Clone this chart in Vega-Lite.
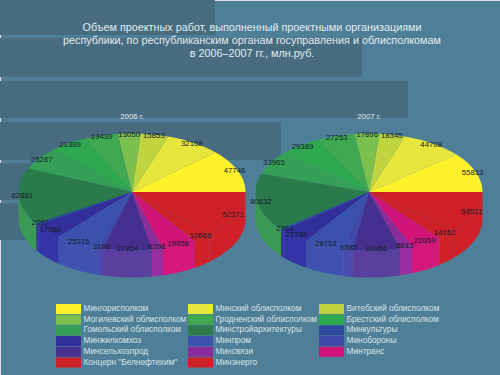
{"$schema":"https://vega.github.io/schema/vega-lite/v6.json","width":500,"height":375,"padding":0,"autosize":{"type":"none"},"background":"#4f7f98","title":{"text":["Объем проектных работ, выполненный проектными организациями","республики, по республиканским органам госуправления и облисполкомам","в 2006–2007 гг., млн.руб."],"font":"Liberation Sans","fontSize":10.8,"fontWeight":"normal","color":"#e4ecf0","anchor":"middle","baseline":"top","offset":-59,"lineHeight":13,"dx":2},"resolve":{"scale":{"color":"independent"}},"datasets":{"slices":[{"year":"2006 г.","name":"Мингорисполком","value":47746},{"year":"2006 г.","name":"Минский облисполком","value":32168},{"year":"2006 г.","name":"Витебский облисполком","value":15853},{"year":"2006 г.","name":"Могилевский облисполком","value":13050},{"year":"2006 г.","name":"Гродненский облисполком","value":19439},{"year":"2006 г.","name":"Брестский облисполком","value":21389},{"year":"2006 г.","name":"Гомельский облисполком","value":25287},{"year":"2006 г.","name":"Минстройархитектуры","value":62881},{"year":"2006 г.","name":"Минкультуры","value":2097},{"year":"2006 г.","name":"Минжилкомхоз","value":17086},{"year":"2006 г.","name":"Минпром","value":25315},{"year":"2006 г.","name":"Минобороны","value":3188},{"year":"2006 г.","name":"Минсельхозпрод","value":27854},{"year":"2006 г.","name":"Минсвязи","value":6298},{"year":"2006 г.","name":"Минтранс","value":19958},{"year":"2006 г.","name":"Концерн \"Белнефтехим\"","value":10668},{"year":"2006 г.","name":"Минэнерго","value":52371},{"year":"2007 г.","name":"Мингорисполком","value":55813},{"year":"2007 г.","name":"Минский облисполком","value":44708},{"year":"2007 г.","name":"Витебский облисполком","value":18345},{"year":"2007 г.","name":"Могилевский облисполком","value":17896},{"year":"2007 г.","name":"Гродненский облисполком","value":27253},{"year":"2007 г.","name":"Брестский облисполком","value":29389},{"year":"2007 г.","name":"Гомельский облисполком","value":33965},{"year":"2007 г.","name":"Минстройархитектуры","value":80632},{"year":"2007 г.","name":"Минкультуры","value":2764},{"year":"2007 г.","name":"Минжилкомхоз","value":21758},{"year":"2007 г.","name":"Минпром","value":28718},{"year":"2007 г.","name":"Минобороны","value":6585},{"year":"2007 г.","name":"Минсельхозпрод","value":33956},{"year":"2007 г.","name":"Минсвязи","value":8813},{"year":"2007 г.","name":"Минтранс","value":22659},{"year":"2007 г.","name":"Концерн \"Белнефтехим\"","value":14162},{"year":"2007 г.","name":"Минэнерго","value":58511}]},"data":{"name":"slices"},"transform":[{"joinaggregate":[{"op":"sum","field":"value","as":"total"}],"groupby":["year"]},{"stack":"value","groupby":["year"],"as":["v0","v1"]},{"calculate":"2*PI*datum.v0/datum.total","as":"a0"},{"calculate":"2*PI*datum.v1/datum.total","as":"a1"},{"calculate":"max(datum.a0,PI)","as":"w0"},{"calculate":"'M0 0L'+round(113.5*cos(datum.a0)*100)/100+' '+round(-58.5*sin(datum.a0)*100)/100+'A113.5 58.5 0 0 0 '+round(113.5*cos(datum.a1)*100)/100+' '+round(-58.5*sin(datum.a1)*100)/100+'Z'","as":"top"},{"calculate":"datum.a1<=PI?'M0 0':'M'+round(113.5*cos(datum.w0)*100)/100+' '+round(-58.5*sin(datum.w0)*100)/100+'A113.5 58.5 0 0 0 '+round(113.5*cos(datum.a1)*100)/100+' '+round(-58.5*sin(datum.a1)*100)/100+'L'+round(113.5*cos(datum.a1)*100)/100+' '+round((27-58.5*sin(datum.a1))*100)/100+'A113.5 58.5 0 0 1 '+round(113.5*cos(datum.w0)*100)/100+' '+round((27-58.5*sin(datum.w0))*100)/100+'Z'","as":"wall"},{"calculate":"0.97*113.5*cos((datum.a0+datum.a1)/2)","as":"lx"},{"calculate":"-0.97*58.5*sin((datum.a0+datum.a1)/2)","as":"ly"}],"layer":[{"data":{"values":[{"deco":"bands"}]},"transform":[],"mark":{"type":"point","filled":true,"opacity":1,"size":4,"color":"#476c80","shape":"M-250 -187.5H-35V-152.5H-250ZM-250 -149.5H112V-110.5H-250ZM-250 -106.5H158V-69.5H-250ZM-250 -65.5H31V-27.5H-250ZM-250 -24.5H-130V12.5H-250ZM-250 15.5H-130V52.5H-250Z"}},{"mark":{"type":"point","filled":true,"size":4,"opacity":1},"encoding":{"x":{"field":"year","type":"ordinal","scale":{"type":"point","domain":["2006 г.","2007 г."],"range":[132,369],"padding":0},"axis":null},"y":{"field":"year","type":"ordinal","scale":{"type":"point","domain":["2006 г.","2007 г."],"range":[192,192],"padding":0},"axis":null},"shape":{"field":"wall","type":"nominal","scale":null},"color":{"field":"name","type":"nominal","legend":null,"scale":{"domain":["Мингорисполком","Минский облисполком","Витебский облисполком","Могилевский облисполком","Гродненский облисполком","Брестский облисполком","Гомельский облисполком","Минстройархитектуры","Минкультуры","Минжилкомхоз","Минпром","Минобороны","Минсельхозпрод","Минсвязи","Минтранс","Концерн \"Белнефтехим\"","Минэнерго"],"range":["#fff22a","#e6e63c","#bfd440","#7cc050","#3fa850","#2ea84f","#35a055","#3a9a55","#33369c","#3535a8","#3f52b0","#4a4ab0","#5a3f9e","#9a2ea0","#d4187c","#d0212a","#d0212a"]}}}},{"mark":{"type":"point","filled":true,"size":4,"opacity":1},"encoding":{"x":{"field":"year","type":"ordinal","axis":null,"scale":{"type":"point","domain":["2006 г.","2007 г."],"range":[132,369],"padding":0}},"y":{"field":"year","type":"ordinal","axis":null,"scale":{"type":"point","domain":["2006 г.","2007 г."],"range":[192,192],"padding":0}},"shape":{"field":"top","type":"nominal","scale":null},"color":{"field":"name","type":"nominal","scale":{"domain":["Мингорисполком","Минский облисполком","Витебский облисполком","Могилевский облисполком","Гродненский облисполком","Брестский облисполком","Гомельский облисполком","Минстройархитектуры","Минкультуры","Минжилкомхоз","Минпром","Минобороны","Минсельхозпрод","Минсвязи","Минтранс","Концерн \"Белнефтехим\"","Минэнерго"],"range":["#fff22a","#e6e63c","#bfd440","#7cc050","#3fa850","#2ea84f","#35a055","#2a7a4c","#2b4a9e","#322e9c","#3a52ae","#4048a8","#46308f","#8a2c9c","#d0147a","#cf2028","#cf2028"]},"legend":{"orient":"none","direction":"horizontal","legendX":63.5,"legendY":304,"columns":3,"title":null,"symbolType":"M-2.5 -1H2.5V1H-2.5Z","symbolSize":100,"symbolOpacity":1,"labelOffset":10,"labelFont":"Liberation Sans","labelFontSize":8.3,"labelColor":"#d8e3e8","rowPadding":0.7,"columnPadding":1,"labelLimit":130,"symbolStrokeWidth":0}}}},{"mark":{"type":"text","font":"Liberation Sans","fontSize":7.8,"color":"#15202a","dx":{"expr":"datum.lx"},"dy":{"expr":"datum.ly"}},"encoding":{"x":{"field":"year","type":"ordinal","axis":null},"y":{"field":"year","type":"ordinal","axis":null},"text":{"field":"value","type":"quantitative","format":"d"}}},{"data":{"values":[{"year":"2006 г."},{"year":"2007 г."}]},"transform":[],"mark":{"type":"text","font":"Liberation Sans","fontSize":7.8,"color":"#e4ecf0","dy":-75},"encoding":{"x":{"field":"year","type":"ordinal","axis":null},"y":{"field":"year","type":"ordinal","axis":null},"text":{"field":"year","type":"nominal"}}}]}
